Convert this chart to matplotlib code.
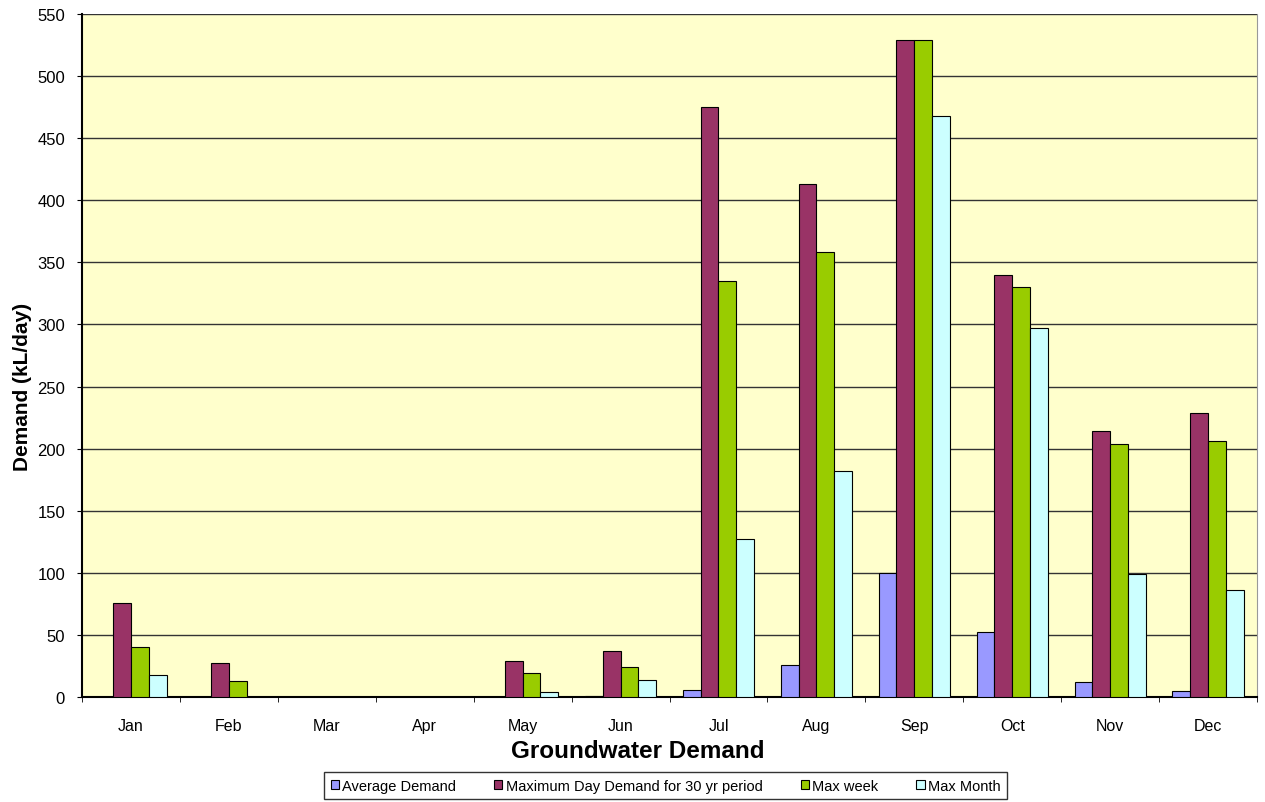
import numpy as np
import matplotlib.pyplot as plt

months = ["Jan", "Feb", "Mar", "Apr", "May", "Jun", "Jul", "Aug", "Sep", "Oct", "Nov", "Dec"]
avg_demand = [0, 0, 0, 0, 0, 1, 6, 26, 100, 52, 12, 5]
max_day = [76, 27, 0, 0, 29, 37, 475, 413, 529, 340, 214, 229]
max_week = [40, 13, 0, 0, 19, 24, 335, 358, 529, 330, 204, 206]
max_month = [18, 0, 0, 0, 4, 14, 127, 182, 468, 297, 99, 86]

series = [
    ("Average Demand", avg_demand, "#9999FF"),
    ("Maximum Day Demand for 30 yr period", max_day, "#993366"),
    ("Max week", max_week, "#99CC00"),
    ("Max Month", max_month, "#CCFFFF"),
]

plt.rcParams["font.family"] = ["Liberation Sans", "DejaVu Sans"]

fig = plt.figure(figsize=(12.65, 8.03), dpi=100)
ax = fig.add_axes([0.0648, 0.1308, 0.9289, 0.8505])
ax.set_facecolor("#FFFFCC")

x = np.arange(len(months))
w = 0.182
for i, (name, vals, col) in enumerate(series):
    ax.bar(x + (i - 1.5) * w, vals, w, color=col, edgecolor="black", linewidth=0.8,
           label=name, zorder=3)

ax.set_xlim(-0.5, 11.5)
ax.set_ylim(0, 550)
ax.set_yticks(range(0, 551, 50))
ax.yaxis.grid(True, color="#333333", linewidth=1.0, zorder=0)
ax.set_xticks(x)
ax.set_xticklabels(months, fontsize=11.5)
ax.set_xticks(np.arange(-0.5, 12, 1), minor=True)
ax.tick_params(axis="x", which="major", length=0, pad=15.5)
ax.tick_params(axis="x", which="minor", length=3.6, direction="out")
ax.tick_params(axis="y", labelsize=12, length=3.6, pad=8.6, direction="out")

ax.spines["top"].set_visible(False)
ax.spines["right"].set_color("#999999")
ax.spines["right"].set_linewidth(0.8)
ax.spines["left"].set_linewidth(1.5)
ax.spines["bottom"].set_linewidth(1.5)

ax.set_ylabel("Demand (kL/day)", fontsize=15, fontweight="bold", va="center")
ax.yaxis.set_label_coords(-0.051, 0.455)
ax.set_xlabel("Groundwater Demand", fontsize=17.5, fontweight="bold", va="center")
ax.xaxis.set_label_coords(0.473, -0.079)

leg = fig.legend(loc="center", bbox_to_anchor=(0.5263, 0.0205), ncol=4, fontsize=10.5,
                 frameon=True, fancybox=False, edgecolor="black", handlelength=0.55,
                 handleheight=0.55, columnspacing=2.6, handletextpad=0.25,
                 borderpad=0.45, borderaxespad=0)
leg.get_frame().set_linewidth(1.0)

fig.savefig("out.png", dpi=100)
